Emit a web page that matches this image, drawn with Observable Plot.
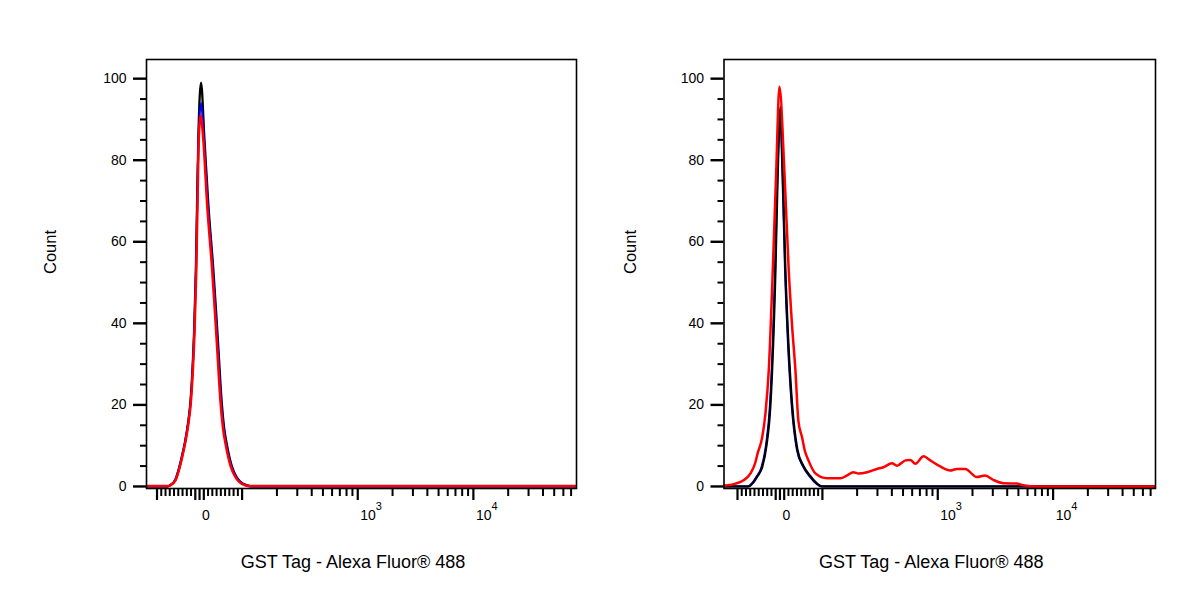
<!DOCTYPE html>
<html><head><meta charset="utf-8">
<script src="https://cdn.jsdelivr.net/npm/d3@7"></script>
<script src="https://cdn.jsdelivr.net/npm/@observablehq/plot@0.6"></script>
<style>
html,body{margin:0;padding:0;background:#fff;}
#wrap{display:flex;width:1200px;height:600px;}
#wrap > *{flex:none;}
</style></head><body><div id="wrap"></div>
<script>
// ---- data: [fluorescence value, count] ----
const leftBlack = [[-125,0],[-75,0],[-69.4,0.3],[-57.6,1.5],[-48.2,4.5],[-41.2,7.5],[-34.1,11],[-27.1,15.5],[-21.2,21],[-16.5,29],[-12.5,39],[-8.7,53],[-5.9,69],[-2.8,85.5],[3.5,99],[11.3,85.5],[20.7,69],[32.5,53],[38.8,43],[44.7,33],[51.8,21],[57.6,14.5],[64.7,10],[75.8,5],[85.9,2.5],[95.3,1.2],[109.8,0.3],[122,0],[78000,0]];
const leftBlue = [[-125,0],[-75,0],[-69,0.3],[-57.2,1.5],[-47.8,4.5],[-40.8,7.5],[-33.7,11],[-26.7,15.5],[-20.8,21],[-16.1,29],[-12.1,39],[-8.4,53],[-5.6,69],[-2.5,85.5],[3.5,94],[10.1,85.5],[19.5,69],[31.3,53],[37.6,43],[43.5,33],[50.6,21],[56.4,14.5],[63.5,10],[74.6,5],[84.7,2.5],[94.1,1.2],[108,0.3],[120,0],[78000,0]];
const leftRed = [[-125,0.1],[-74,0.1],[-68.4,0.3],[-56.6,1.5],[-47.2,4.5],[-40.2,7.5],[-33.1,11],[-26.1,15.5],[-20.2,21],[-15.5,29],[-11.5,39],[-7.7,53],[-4.9,69],[-1.8,85.5],[2.4,91],[8.5,85.5],[17.9,69],[29.7,53],[36,43],[41.9,33],[49,21],[54.8,14.5],[61.9,10],[73,5],[83.1,2.5],[92.5,1.2],[106.5,0.3],[118,0.1],[78000,0.1]];

const rightBlue = [[-138,0],[-76,0],[-64,1],[-54.5,2.5],[-43.5,4.7],[-33,10],[-23.5,20],[-11.5,53],[-6,77],[0.5,91],[5.8,77],[12,53],[19,35],[27.7,20],[40,9],[54,5],[70,2.5],[86,0.7],[98,0],[77000,0]];
const rightBlack = [[-138,0],[-74.1,0],[-62.4,1],[-52.9,2.5],[-41.9,4.7],[-31.8,10],[-22.4,20],[-10.6,53],[-5.2,77],[1.2,93],[6.6,77],[12.9,53],[20,35],[28.7,20],[41.2,9],[55.3,5],[71.8,2.5],[87.5,0.7],[99.3,0],[77000,0]];
const rightRed = [[-138,0.2],[-124.2,0.3],[-104.7,0.7],[-85.9,1.5],[-69.4,3.2],[-57.6,6],[-52.9,8],[-41.9,12],[-34.1,18],[-26.4,28.4],[-16.9,53],[-8.9,77],[-1.2,98],[10.6,77],[20.7,53],[28.2,40],[36.5,28.4],[43.5,16],[52.2,12],[58,9],[67.1,6.4],[83.6,3.2],[109.8,2.0],[143.2,2.0],[163.7,2.7],[185.5,3.5],[205,3.2],[244,3.5],[298,4.3],[338,4.7],[401,5.7],[444,5.1],[524,6.4],[578,6.5],[639,5.6],[754,7.4],[861,6.4],[1050,4.9],[1283,3.9],[1465,4.3],[1730,4.3],[2181,2.3],[2574,2.7],[3036,1.6],[3703,0.8],[4836,0.7],[5484,0.3],[7200,0],[77000,0]];

// ---- axes ----
const xDomainLeft = [-124.7, 77950];
const xDomainRight = [-131.8, 77160];
const yDomain = [-0.5, 104.7];
const yMajor = [0, 20, 40, 60, 80, 100];
const yMinor = [5, 10, 15, 25, 30, 35, 45, 50, 55, 65, 70, 75, 85, 90, 95];
const xMajor = [-100, -10, 0, 10, 100, 1000, 10000];
const xMinor = [-90,-80,-70,-60,-50,-40,-30,-20,20,30,40,50,60,70,80,90,
  200,300,400,500,600,700,800,900,2000,3000,4000,5000,6000,7000,8000,9000,
  20000,30000,40000,50000,60000,70000];
const xLabels = [{v: 0, base: "0", exp: ""}, {v: 1000, base: "10", exp: "3"}, {v: 10000, base: "10", exp: "4"}];
const yTitle = "Count";
const xTitle = "GST Tag - Alexa Fluor\u00AE 488";

// biexponential-like display transform (decades)
const LIN = 0.425 / 115.5;
const D = v => v >= 100 ? Math.log10(v) : 2 + (v - 100) * LIN;

function panel(series, domain, marginLeft, marginRight, titleDx) {
  return Plot.plot({
    width: 600, height: 600, marginLeft, marginRight, marginTop: 59, marginBottom: 112,
    style: {fontFamily: "'Liberation Sans', Arial, sans-serif", fontSize: "14px", color: "#000", background: "#fff"},
    x: {domain: domain.map(D), axis: null},
    y: {domain: yDomain, axis: null},
    marks: [
      ...series.map(s => Plot.line(s.data, {x: d => D(d[0]), y: d => d[1], stroke: s.color, strokeWidth: s.w, curve: "monotone-x", clip: true})),
      Plot.frame({stroke: "#000", strokeWidth: 1.6}),
      Plot.axisY({ticks: yMinor, tickSize: 6, tickFormat: () => "", strokeWidth: 2, label: null}),
      Plot.axisY({ticks: yMajor, tickSize: 13, tickPadding: 7, strokeWidth: 2.4, label: null, fontSize: 14}),
      Plot.axisX({ticks: xMinor.map(D), tickSize: 8, tickFormat: () => "", strokeWidth: 2, label: null}),
      Plot.axisX({ticks: xMajor.map(D), tickSize: 12, tickFormat: () => "", strokeWidth: 2.2, label: null}),
      Plot.text(xLabels, {x: d => D(d.v), text: d => d.base, frameAnchor: "bottom", dy: 31, dx: 2.5, textAnchor: "start", fontSize: 14}),
      Plot.text(xLabels, {x: d => D(d.v), text: d => d.exp, frameAnchor: "bottom", dy: 21, dx: 18, textAnchor: "start", fontSize: 11}),
      Plot.text([yTitle], {text: d => d, frameAnchor: "left", dx: titleDx, rotate: -90, fontSize: 16.5}),
      Plot.text([xTitle], {text: d => d, frameAnchor: "bottom", dy: 79, dx: -8.5, fontSize: 18})
    ]
  });
}

const wrap = document.getElementById("wrap");
wrap.append(panel([
  {data: leftBlack, color: "#000000", w: 2.3},
  {data: leftBlue, color: "#0000ff", w: 2.1},
  {data: leftRed, color: "#ff0000", w: 2.5}
], xDomainLeft, 146, 24, -96));
wrap.append(panel([
  {data: rightBlue, color: "#0000ff", w: 2.1},
  {data: rightBlack, color: "#000000", w: 2.3},
  {data: rightRed, color: "#ff0000", w: 2.5}
], xDomainRight, 123.5, 45, -93.5));
</script></body></html>
